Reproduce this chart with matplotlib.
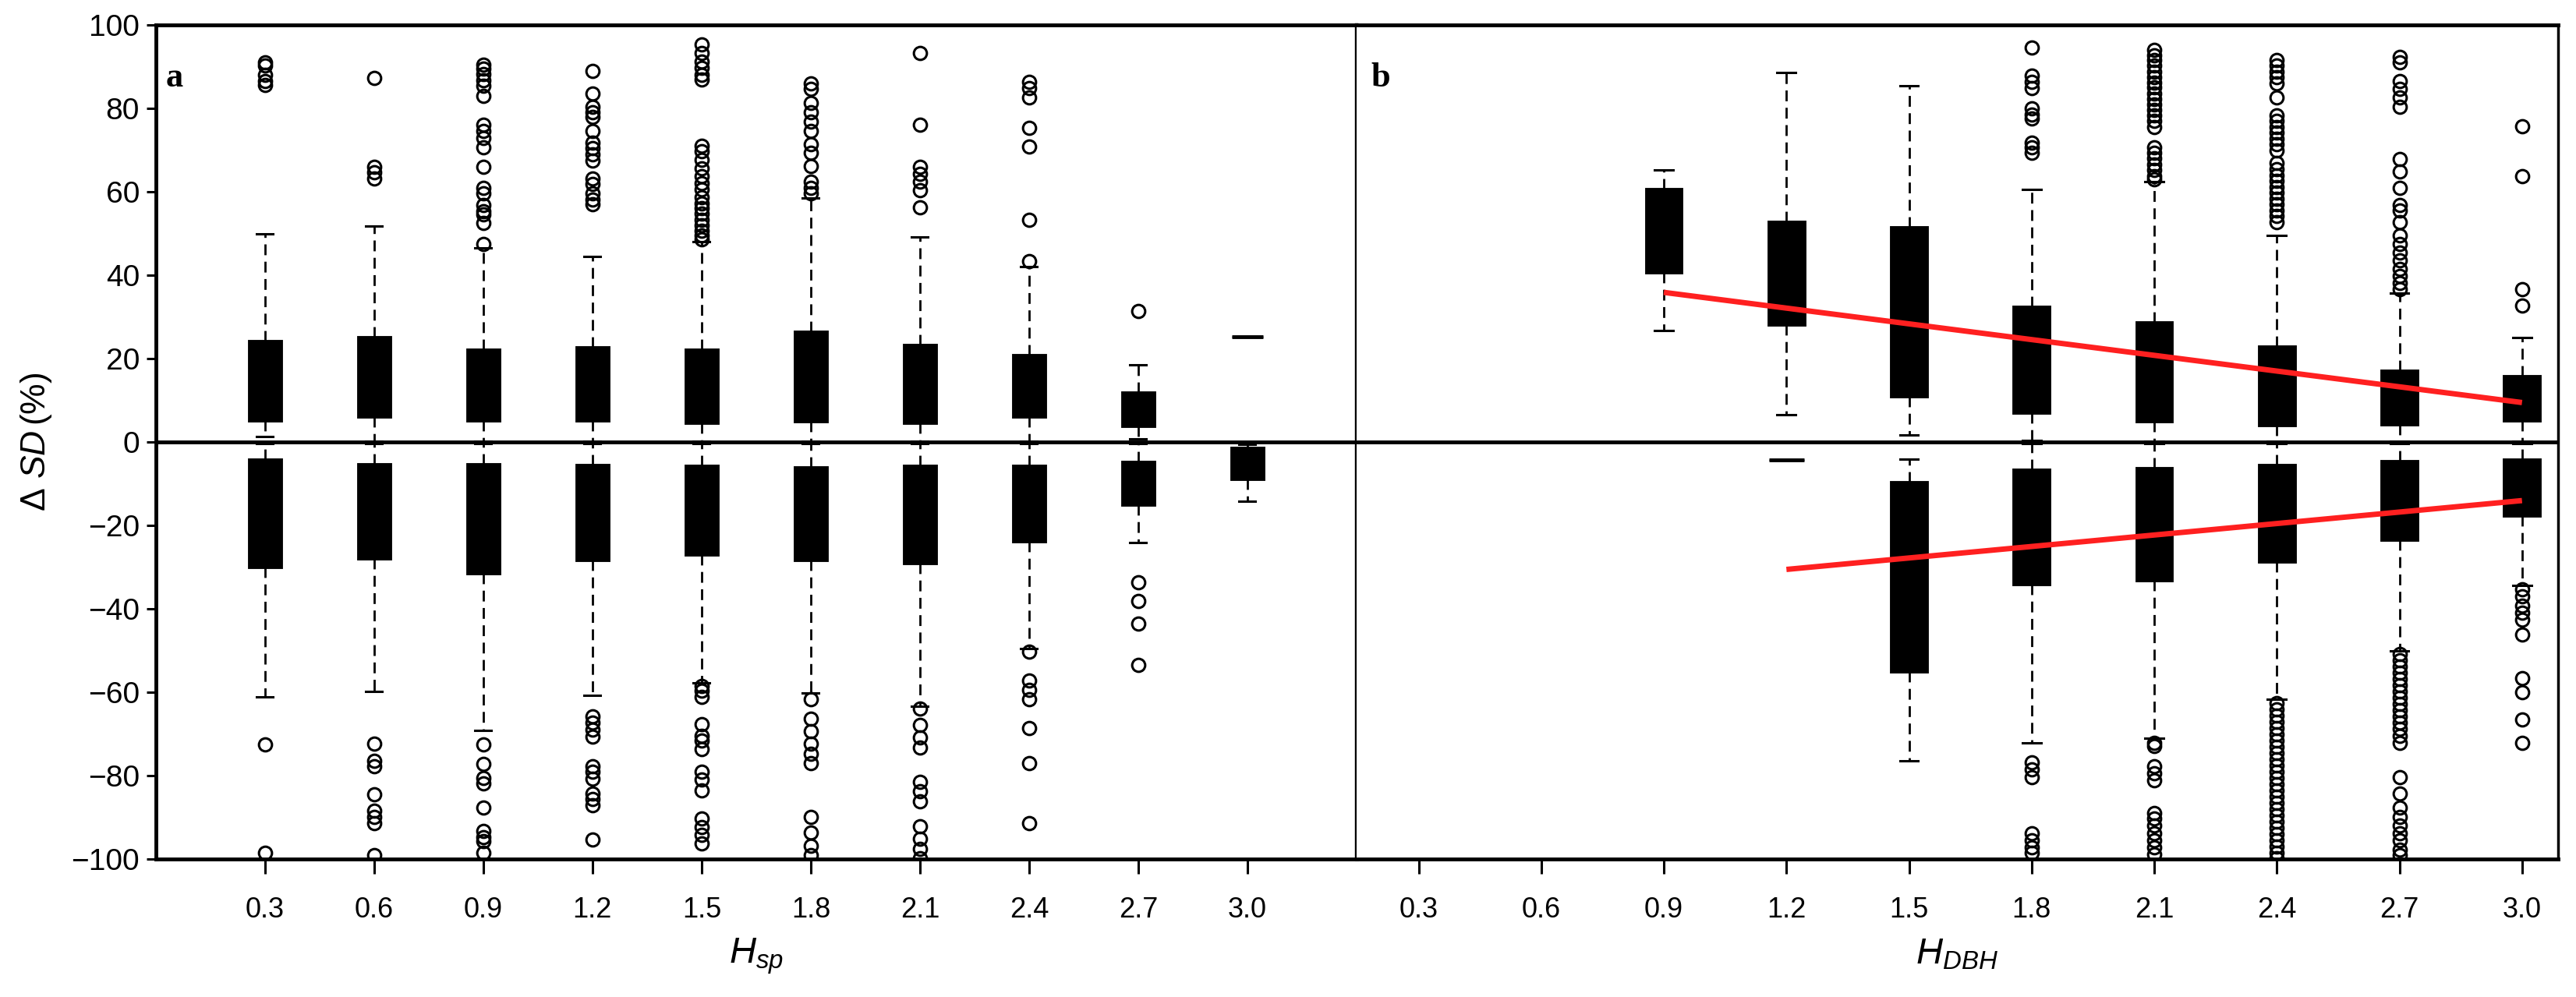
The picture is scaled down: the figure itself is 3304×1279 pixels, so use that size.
import matplotlib
matplotlib.use('Agg')
import matplotlib.pyplot as plt

plt.rcParams['mathtext.fontset'] = 'custom'
plt.rcParams['mathtext.rm'] = 'Liberation Sans'
plt.rcParams['mathtext.it'] = 'Liberation Sans:italic'

# categorias do eixo x (iguais nos dois painéis)
classes = [0.3, 0.6, 0.9, 1.2, 1.5, 1.8, 2.1, 2.4, 2.7, 3.0]

# ---- painel a (H_sp), parte positiva ----
a_pos_q1 = [5.2, 6.2, 5.2, 5.2, 4.8, 5.0, 4.8, 6.2, 4.0, 25.2]
a_pos_q3 = [24.1, 25.1, 22.1, 22.6, 22.0, 26.3, 23.3, 20.8, 11.8, 25.2]
a_pos_lo = [1.3, 0.3, 0.3, 0.3, 0.3, 0.3, 0.3, 0.3, 0.8, 25.2]
a_pos_hi = [50.0, 51.8, 46.5, 44.5, 48.0, 58.6, 49.2, 42.0, 18.6, 25.2]
a_pos_out = [
    [91.0, 90.2, 88.0, 86.5, 85.7],
    [87.3, 66.0, 64.6, 63.2],
    [90.5, 89.6, 88.2, 86.8, 85.4, 83.0, 76.0, 74.6, 72.9, 70.7, 66.0, 61.0, 59.6,
     56.8, 55.4, 54.6, 52.5, 47.5],
    [89.0, 83.6, 80.4, 79.0, 77.9, 74.6, 71.8, 70.4, 68.9, 67.5, 63.2, 61.8, 59.6,
     58.2, 57.1],
    [95.3, 93.3, 91.3, 89.7, 88.0, 87.0, 71.0, 69.7, 67.7, 65.7, 63.7, 62.0, 60.5,
     58.7, 57.3, 56.0, 54.7, 53.3, 52.0, 50.7, 49.5, 48.7],
    [86.0, 84.6, 81.4, 79.0, 76.9, 74.6, 71.5, 69.3, 66.2, 62.4, 60.9, 59.6],
    [93.3, 76.1, 65.9, 64.4, 62.4, 60.4, 56.3],
    [86.3, 84.8, 82.6, 75.3, 70.8, 53.3, 43.4],
    [31.5],
    [],
]

# ---- painel a, parte negativa ----
a_neg_q3 = [-4.3, -5.3, -5.3, -5.5, -5.8, -6.1, -5.8, -5.8, -4.8, -1.5]
a_neg_q1 = [-29.9, -27.7, -31.3, -28.1, -26.8, -28.2, -28.9, -23.6, -14.9, -8.7]
a_neg_hi = [-0.3, -0.3, -0.3, -0.3, -0.3, -0.3, -0.3, -0.3, -0.3, -0.5]
a_neg_lo = [-61.0, -59.8, -69.0, -60.6, -57.6, -60.1, -63.2, -49.5, -24.0, -14.2]
a_neg_out = [
    [-72.5, -98.4],
    [-72.3, -76.3, -77.6, -84.4, -88.4, -89.9, -91.4, -99.0],
    [-72.5, -77.1, -80.4, -81.8, -87.6, -93.1, -94.7, -95.6, -98.4],
    [-65.7, -67.3, -68.9, -70.5, -77.7, -79.0, -80.6, -84.2, -85.5, -87.1, -95.2],
    [-58.5, -59.6, -61.0, -67.6, -70.3, -71.6, -73.6, -78.9, -80.9, -83.5, -90.2,
     -92.2, -94.2, -96.2],
    [-61.6, -66.2, -69.3, -72.3, -74.6, -76.9, -89.8, -93.6, -96.7, -98.9],
    [-63.9, -67.7, -70.8, -73.1, -81.4, -83.7, -86.0, -92.1, -95.1, -97.4, -99.7],
    [-50.2, -57.1, -59.4, -61.6, -68.5, -76.9, -91.3],
    [-33.5, -38.0, -43.4, -53.3],
    [],
]

# ---- painel b (H_DBH): só há dados de 0.9 em diante ----
b_pos_x = [0.9, 1.2, 1.5, 1.8, 2.1, 2.4, 2.7, 3.0]
b_pos_q1 = [40.7, 28.2, 11.0, 7.1, 5.0, 4.2, 4.3, 5.2]
b_pos_q3 = [60.6, 52.8, 51.5, 32.3, 28.6, 22.8, 17.1, 15.8]
b_pos_lo = [26.7, 6.5, 1.8, 0.4, 0.3, 0.3, 0.3, 0.3]
b_pos_hi = [65.2, 88.6, 85.5, 60.6, 62.5, 49.5, 35.8, 25.1]
b_pos_out = [
    [],
    [],
    [],
    [94.5, 87.8, 86.4, 84.9, 80.0, 78.5, 77.5, 71.8, 70.7, 69.3],
    [94.0, 92.8, 91.5, 90.2, 88.8, 87.5, 86.2, 85.0, 83.6, 82.3, 81.0, 79.6, 78.3,
     77.0, 75.5, 70.7, 69.4, 68.0, 66.6, 65.2, 63.8, 63.0],
    [91.6, 90.2, 88.8, 87.4, 86.0, 82.6, 78.3, 77.0, 75.6, 74.2, 72.8, 71.4, 70.0,
     66.9, 65.5, 64.0, 62.6, 61.2, 59.8, 58.4, 57.0, 55.6, 54.2, 52.8],
    [92.3, 91.0, 86.6, 84.6, 82.6, 80.3, 67.9, 64.9, 60.9, 56.9, 55.5, 52.8, 49.5,
     47.5, 45.5, 43.5, 41.5, 39.8, 38.1, 36.7],
    [75.7, 63.7, 36.7, 32.8],
]

b_neg_x = [1.2, 1.5, 1.8, 2.1, 2.4, 2.7, 3.0]
b_neg_q3 = [-4.2, -9.7, -6.7, -6.4, -5.6, -4.7, -4.3]
b_neg_q1 = [-4.2, -54.9, -33.9, -33.1, -28.5, -23.3, -17.5]
b_neg_hi = [-4.2, -4.1, -0.3, -0.3, -0.3, -0.3, -0.3]
b_neg_lo = [-4.2, -76.4, -72.0, -71.0, -61.6, -50.0, -34.4]
b_neg_out = [
    [],
    [],
    [-76.8, -78.5, -80.3, -93.7, -95.4, -97.1, -98.4],
    [-72.0, -72.9, -77.7, -79.4, -81.1, -88.9, -90.2, -91.9, -93.7, -95.4, -97.1,
     -98.8],
    [-62.5, -64.0, -65.5, -67.0, -68.5, -70.0, -71.5, -73.0, -74.5, -76.0, -77.5,
     -79.0, -80.5, -82.0, -83.5, -85.0, -86.5, -88.0, -89.5, -91.0, -92.5, -94.0,
     -95.5, -97.0, -98.5, -99.7],
    [-50.8, -52.3, -53.8, -55.3, -56.8, -58.3, -59.8, -61.3, -62.8, -64.3, -65.8,
     -67.3, -68.8, -70.3, -72.0, -80.3, -84.2, -87.6, -89.8, -91.9, -93.7, -95.4,
     -97.6, -98.9],
    [-35.2, -37.0, -39.1, -40.9, -42.6, -46.1, -56.5, -59.9, -66.4, -72.0],
]

# retas de regressão do painel b (extremos)
reg_pos_x = [0.9, 3.0]
reg_pos_y = [35.9, 9.5]
reg_neg_x = [1.2, 3.0]
reg_neg_y = [-30.5, -14.0]


def montar_stats(q1s, q3s, los, his, outs):
    stats = []
    for q1, q3, lo, hi, out in zip(q1s, q3s, los, his, outs):
        # mediana fica escondida dentro da caixa preta
        stats.append(dict(med=q1, q1=q1, q3=q3, whislo=lo, whishi=hi, fliers=out))
    return stats


def desenhar_caixas(ax, posicoes, stats):
    ax.bxp(stats, positions=posicoes, widths=0.085, capwidths=0.045,
           patch_artist=True, manage_ticks=False,
           boxprops=dict(facecolor='black', edgecolor='black', linewidth=3.5),
           whiskerprops=dict(color='black', linestyle=(0, (5, 3)), linewidth=2),
           capprops=dict(color='black', linewidth=2.2),
           medianprops=dict(color='black', linewidth=1),
           flierprops=dict(marker='o', markerfacecolor='none',
                           markeredgecolor='black', markersize=12,
                           markeredgewidth=2.2))


fig = plt.figure(figsize=(33.04, 12.79), dpi=100)
ax_a = fig.add_axes([0.0605, 0.138, 0.4661, 0.837])
ax_b = fig.add_axes([0.5266, 0.138, 0.4664, 0.837])

desenhar_caixas(ax_a, classes, montar_stats(a_pos_q1, a_pos_q3, a_pos_lo, a_pos_hi, a_pos_out))
desenhar_caixas(ax_a, classes, montar_stats(a_neg_q1, a_neg_q3, a_neg_lo, a_neg_hi, a_neg_out))
desenhar_caixas(ax_b, b_pos_x, montar_stats(b_pos_q1, b_pos_q3, b_pos_lo, b_pos_hi, b_pos_out))
desenhar_caixas(ax_b, b_neg_x, montar_stats(b_neg_q1, b_neg_q3, b_neg_lo, b_neg_hi, b_neg_out))

ax_b.plot(reg_pos_x, reg_pos_y, color='#ff2020', linewidth=5, solid_capstyle='butt', zorder=5)
ax_b.plot(reg_neg_x, reg_neg_y, color='#ff2020', linewidth=5, solid_capstyle='butt', zorder=5)

fonte_fina = ['Liberation Sans Narrow', 'Liberation Sans', 'DejaVu Sans']
rotulos = ['%.1f' % c for c in classes]

for ax in (ax_a, ax_b):
    ax.set_ylim(-100, 100)
    ax.axhline(0, color='black', linewidth=3.5, zorder=1)
    ax.set_xticks(classes)
    ax.set_xticklabels(rotulos)
    ax.tick_params(axis='x', direction='out', length=14, width=2.2, pad=20,
                   labelsize=26)
    for s in ('top', 'bottom'):
        ax.spines[s].set_linewidth(3.5)

ax_a.set_xlim(0.0, 3.3)
ax_b.set_xlim(0.148, 3.088)

ax_a.set_yticks(range(-100, 101, 20))
ax_a.tick_params(axis='y', direction='out', length=9, width=2.2, pad=6, labelsize=28)
for lab in ax_a.get_yticklabels():
    lab.set_family(fonte_fina)
for lab in ax_a.get_xticklabels():
    lab.set_family(['Liberation Sans', 'DejaVu Sans'])
for lab in ax_b.get_xticklabels():
    lab.set_family(fonte_fina)

ax_a.spines['left'].set_linewidth(3.5)
ax_a.spines['right'].set_linewidth(3.2)
ax_b.spines['left'].set_visible(False)
ax_b.spines['right'].set_linewidth(2.5)
ax_b.set_yticks([])

ax_a.set_ylabel(r'$\Delta\ SD\,$(%)', fontsize=32, labelpad=16,
                family=['Liberation Sans', 'DejaVu Sans'])
ax_a.set_xlabel(r'$H_{sp}$', fontsize=34, labelpad=12)
ax_b.set_xlabel(r'$H_{DBH}$', fontsize=34, labelpad=12)

ax_a.text(0.008, 0.955, 'a', transform=ax_a.transAxes, fontsize=32,
          fontweight='bold', family='Liberation Serif', va='top')
ax_b.text(0.012, 0.955, 'b', transform=ax_b.transAxes, fontsize=32,
          fontweight='bold', family='Liberation Serif', va='top')

fig.savefig('out.png', dpi=100)
